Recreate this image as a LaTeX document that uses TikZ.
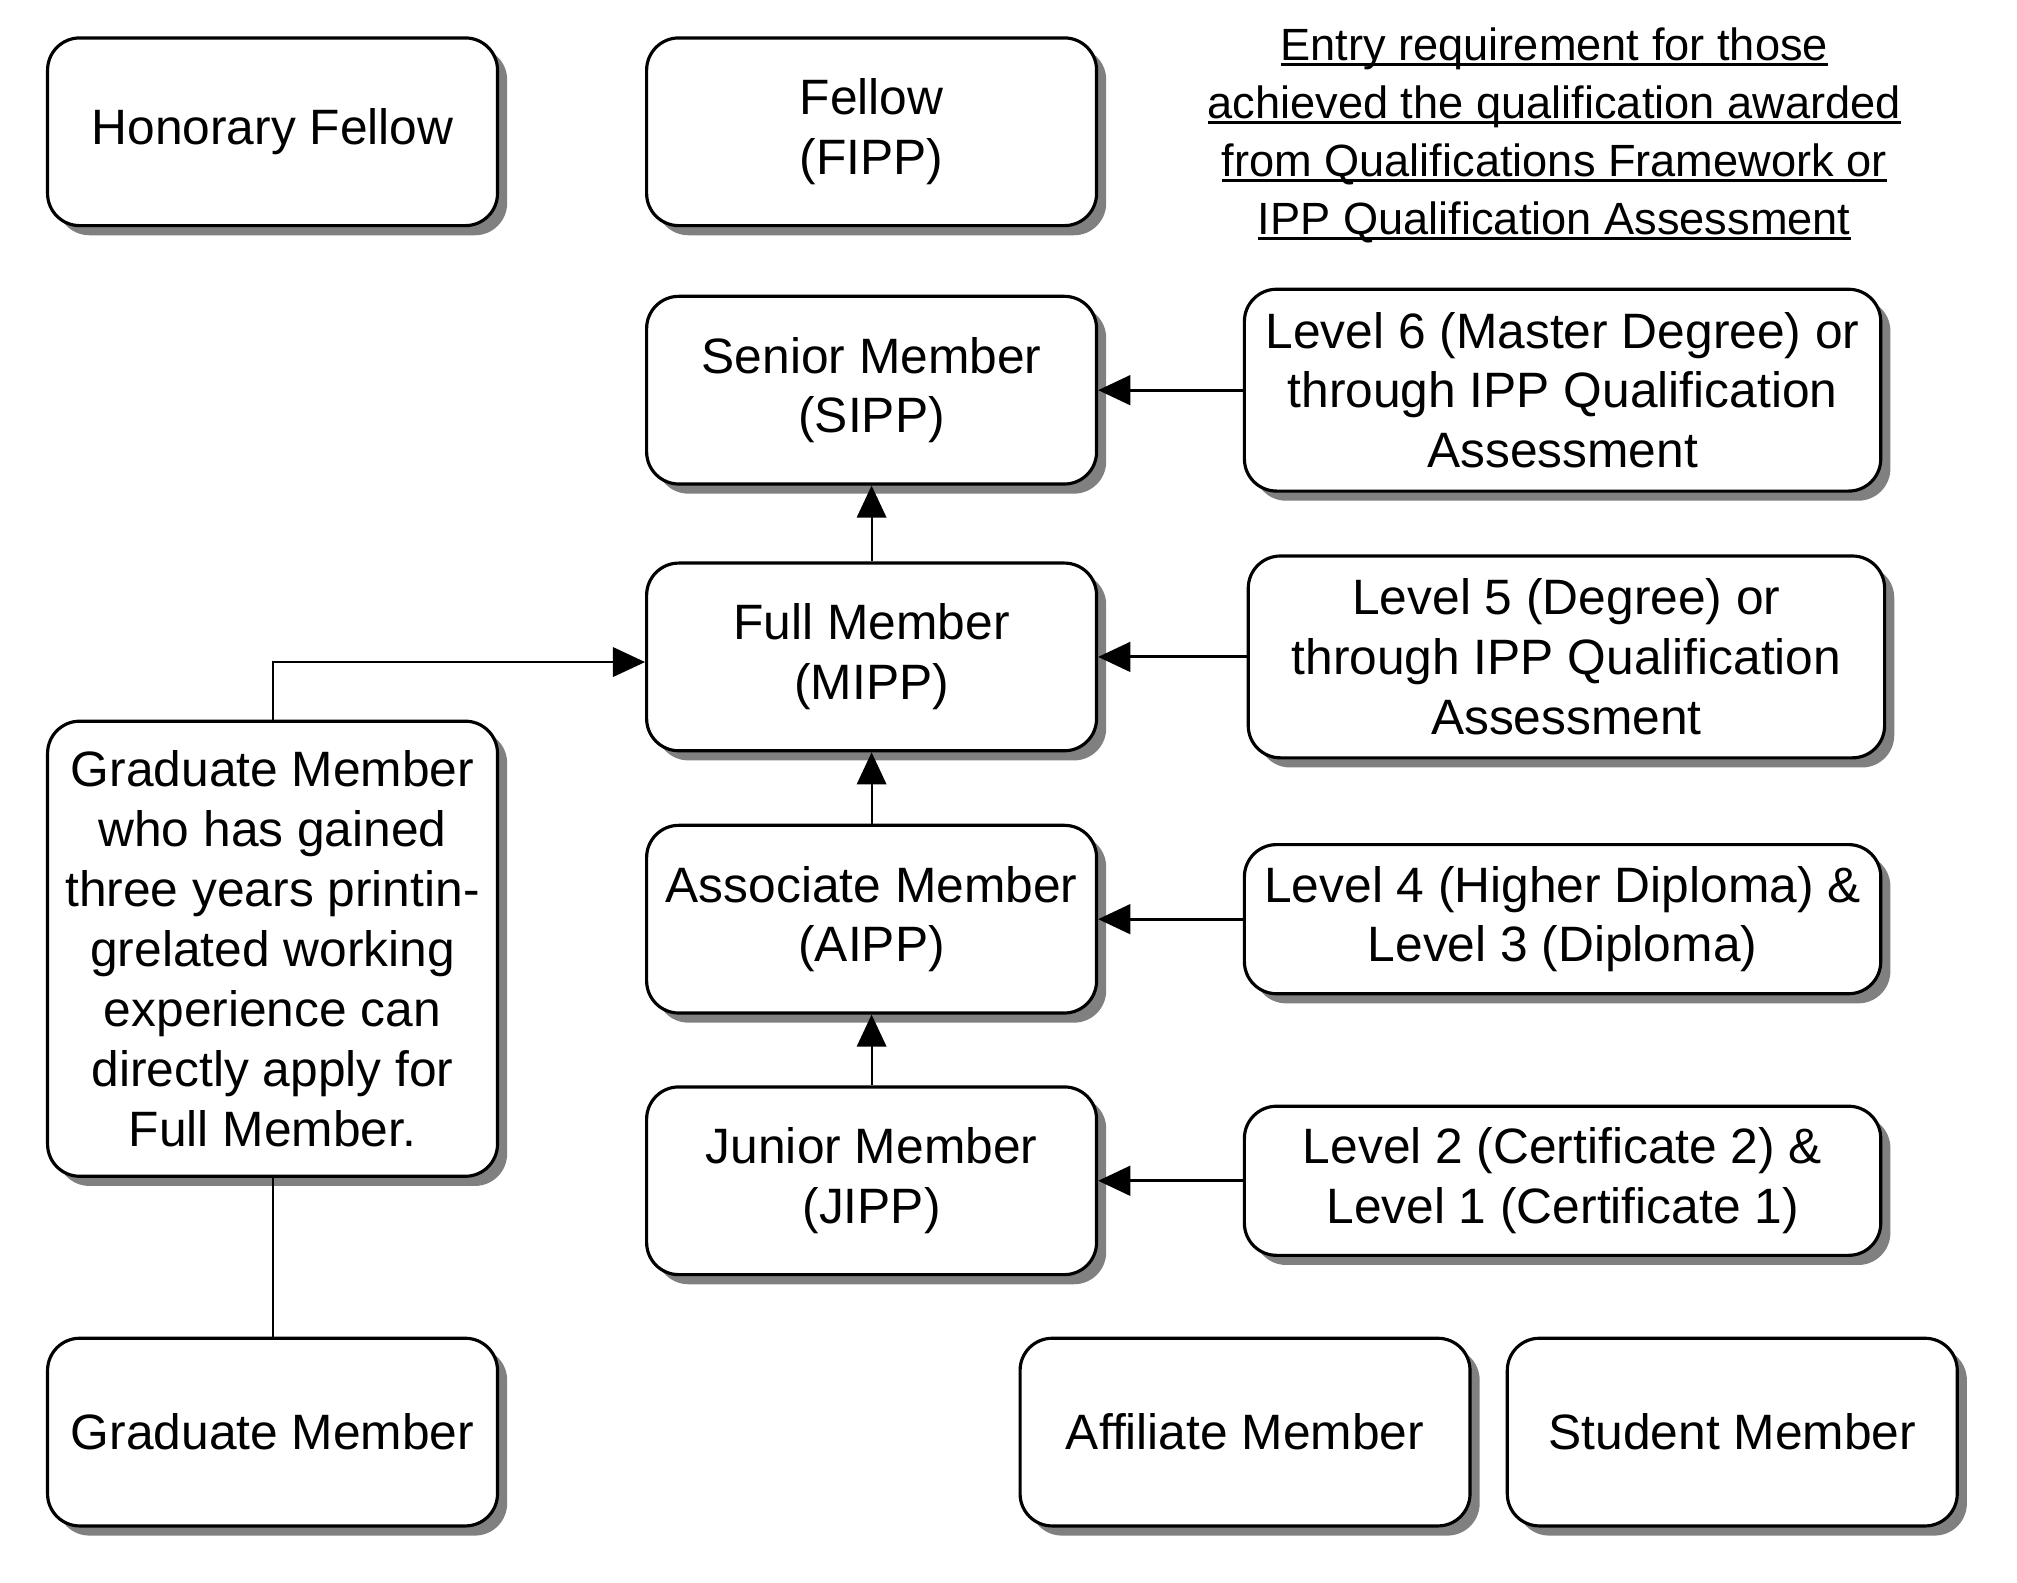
\documentclass[tikz,border=0pt]{standalone}
\usepackage{fontspec}
\setmainfont{Liberation Sans}
\newcommand{\hdrline}[1]{\setbox0\hbox{#1}\rlap{\rule[-2.3pt]{\wd0}{1.2pt}}\box0}
\usepackage{xcolor}
\definecolor{boxshade}{HTML}{808080}
\usepackage{tikz}
\usetikzlibrary{arrows.meta,positioning,shadows}

\begin{document}
\begin{tikzpicture}[->,>={Triangle[length=0.5cm,width=0.46cm]},line width=0.9pt,font=\fontsize{22}{26.5}\selectfont]
  \tikzstyle{mbox}=[rectangle,rounded corners=0.5cm,draw=black,fill=white,line width=1.4pt,align=center,minimum width=7cm,minimum height=2.92cm,drop shadow={shadow xshift=0.15cm,shadow yshift=-0.15cm,fill=boxshade,opacity=1}]
  \tikzstyle{qbox}=[mbox,minimum width=9.9cm]
  \tikzstyle{qe}=[line width=1.3pt]
  \tikzstyle{ln}=[-]

  \useasboundingbox (0,0) rectangle (31.38,-24.62);

  \node[mbox] (hon) at (4.24,-2.05) {Honorary Fellow};
  \node[mbox] (fipp) [node distance=9.32cm, right of=hon] {Fellow\\(FIPP)};
  \node[align=center,font=\fontsize{20}{25.6}\selectfont,yshift=-0.06cm] (entry) [node distance=10.62cm, right of=fipp]
    {\hdrline{Entry requirement for those}\\\hdrline{achieved the qualification awarded}\\\hdrline{from Qualifications Framework or}\\\hdrline{IPP Qualification Assessment}};

  \node[mbox] (sipp) [node distance=4.02cm, below of=fipp] {Senior Member\\(SIPP)};
  \node[mbox] (mipp) [node distance=4.15cm, below of=sipp] {Full Member\\(MIPP)};
  \node[mbox] (aipp) [node distance=4.08cm, below of=mipp] {Associate Member\\(AIPP)};
  \node[mbox] (jipp) [node distance=4.07cm, below of=aipp] {Junior Member\\(JIPP)};

  \node[qbox,minimum height=3.14cm] (lvsix)  [node distance=10.75cm, right of=sipp] {Level 6 (Master Degree) or\\through IPP Qualification\\Assessment};
  \node[qbox,minimum height=3.14cm] (lvfive) [node distance=10.81cm, right of=mipp] {Level 5 (Degree) or\\through IPP Qualification\\Assessment};
  \node[qbox,minimum height=2.32cm] (lvfour) [node distance=10.75cm, right of=aipp] {Level 4 (Higher Diploma) \&\\Level 3 (Diploma)};
  \node[qbox,minimum height=2.32cm] (lvtwo)  [node distance=10.75cm, right of=jipp] {Level 2 (Certificate 2) \&\\Level 1 (Certificate 1)};

  \node[mbox,minimum height=7.08cm] (gradexp) [node distance=12.71cm, below of=hon] {Graduate Member\\who has gained\\three years printin-\\grelated working\\experience can\\directly apply for\\Full Member.};
  \node[mbox] (grad)  [node distance=20.23cm, below of=hon] {Graduate Member};
  \node[mbox] (affil) [node distance=15.13cm, right of=grad] {Affiliate Member};
  \node[mbox] (stud)  [node distance=7.58cm, right of=affil] {Student Member};

  \draw[qe] (lvsix) -- (sipp);
  \draw (mipp) -- (sipp);
  \draw[qe] (lvfive.west) -- (lvfive.west -| mipp.east);
  \draw (gradexp.north) |- ([yshift=-0.08cm]mipp.west);
  \draw (aipp) -- (mipp);
  \draw[qe] (lvfour) -- (aipp);
  \draw (jipp) -- (aipp);
  \draw[qe] (lvtwo) -- (jipp);
  \draw[ln] (grad) -- (gradexp);
\end{tikzpicture}
\end{document}
